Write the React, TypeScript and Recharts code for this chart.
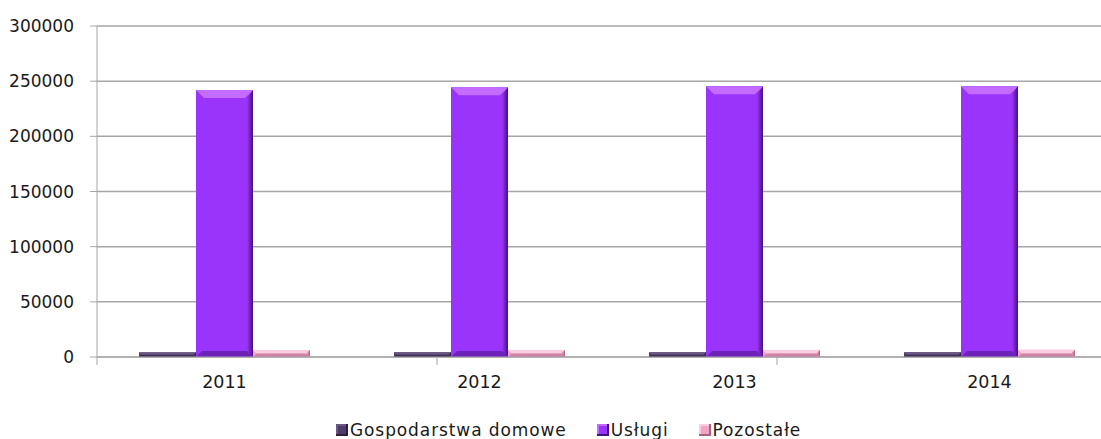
import React from 'react'
import { BarChart, Bar, XAxis, YAxis, CartesianGrid, Legend } from 'recharts'

// values
const years = ['2011', '2012', '2013', '2014']
const gospodarstwa = [4200, 4300, 4300, 4300]
const uslugi = [242000, 244500, 245500, 245500]
const pozostale = [6300, 6400, 6400, 6500]
const yTicks = [0, 50000, 100000, 150000, 200000, 250000, 300000]
const boundaryTicks = [0, 1, 2, 3, 4]

const data = years.map((year, i) => ({
  year,
  gospodarstwa: gospodarstwa[i],
  uslugi: uslugi[i],
  pozostale: pozostale[i],
}))

const series = [
  { key: 'gospodarstwa', name: 'Gospodarstwa domowe', base: '#4f3d68', light: '#6a5884', dark: '#2c1f3e' },
  { key: 'uslugi', name: 'Usługi', base: '#9a34fa', light: '#c36cff', dark: '#44107a' },
  { key: 'pozostale', name: 'Pozostałe', base: '#f2a4c4', light: '#fbcbe0', dark: '#a86282' },
]

const FONT = '"DejaVu Sans", Verdana, sans-serif'
const AXIS_GRAY = '#a6a6a6'

// bar with a bevelled edge, like the Excel 3D look
function BevelBar(props: any) {
  const { x, y, width, height, base, light, dark } = props
  if (!width || !height || height <= 0) return null
  const b = Math.min(8, height / 2, width / 4)
  const r = Math.min(6, height / 2, width / 4)
  const pts = (arr: number[][]) => arr.map((p) => p.join(',')).join(' ')
  const gid = `rg-${base.slice(1)}`
  return (
    <g>
      <defs>
        <linearGradient id={gid} x1="0" y1="0" x2="1" y2="0">
          <stop offset="0%" stopColor={base} />
          <stop offset="100%" stopColor={dark} />
        </linearGradient>
      </defs>
      <rect x={x} y={y} width={width} height={height} fill={base} />
      <polygon points={pts([[x, y], [x + width, y], [x + width - b, y + b], [x + b, y + b]])} fill={light} />
      <polygon
        points={pts([[x + width, y], [x + width, y + height], [x + width - r, y + height - r], [x + width - r, y + b]])}
        fill={`url(#${gid})`}
      />
      <polygon
        points={pts([[x, y + height], [x + width, y + height], [x + width - r, y + height - r], [x + r, y + height - r]])}
        fill={dark}
        opacity={0.5}
      />
    </g>
  )
}

function LegendContent() {
  return (
    <div
      style={{
        height: 40,
        display: 'flex',
        alignItems: 'flex-end',
        paddingLeft: 336,
        fontFamily: FONT,
        fontSize: 17,
        lineHeight: '18px',
        color: '#1a1a1a',
      }}
    >
      {series.map((s) => (
        <div key={s.key} style={{ display: 'flex', alignItems: 'center', marginRight: 30 }}>
          <span
            style={{
              display: 'inline-block',
              width: 12,
              height: 12,
              background: s.base,
              boxShadow: `inset -2px -2px 0 ${s.dark}, inset 2px 2px 0 ${s.light}`,
              marginRight: 2,
            }}
          />
          <span style={{ letterSpacing: 0.9 }}>{s.name}</span>
        </div>
      ))}
    </div>
  )
}

export default function App() {
  return (
    <div
      style={{
        position: 'absolute',
        left: 0,
        top: 0,
        width: 1101,
        height: 439,
        overflow: 'hidden',
        background: '#ffffff',
      }}
    >
      <BarChart
        width={1120}
        height={439}
        data={data}
        margin={{ top: 26, right: 3, left: 0, bottom: 0 }}
        barCategoryGap={42}
        barGap={0}
      >
        <CartesianGrid vertical={false} stroke={AXIS_GRAY} strokeWidth={1.5} />
        <XAxis
          xAxisId={0}
          type="number"
          domain={[0, 4]}
          ticks={boundaryTicks}
          tick={() => <g />}
          tickSize={8}
          height={1}
          stroke={AXIS_GRAY}
          allowDataOverflow
        />
        <XAxis
          xAxisId={1}
          dataKey="year"
          axisLine={false}
          tickLine={false}
          tickSize={0}
          tickMargin={18}
          height={41}
          tick={{ fill: '#1a1a1a', fontSize: 17.5, fontFamily: FONT }}
        />
        <YAxis
          width={97}
          domain={[0, 300000]}
          ticks={yTicks}
          tickSize={7}
          tickMargin={16}
          stroke={AXIS_GRAY}
          tick={{ fill: '#1a1a1a', fontSize: 17, fontFamily: FONT }}
        />
        <Legend verticalAlign="bottom" height={40} content={<LegendContent />} />
        {series.map((s) => (
          <Bar
            key={s.key}
            xAxisId={1}
            dataKey={s.key}
            name={s.name}
            fill={s.base}
            isAnimationActive={false}
            shape={(p: any) => <BevelBar {...p} base={s.base} light={s.light} dark={s.dark} />}
          />
        ))}
      </BarChart>
    </div>
  )
}
